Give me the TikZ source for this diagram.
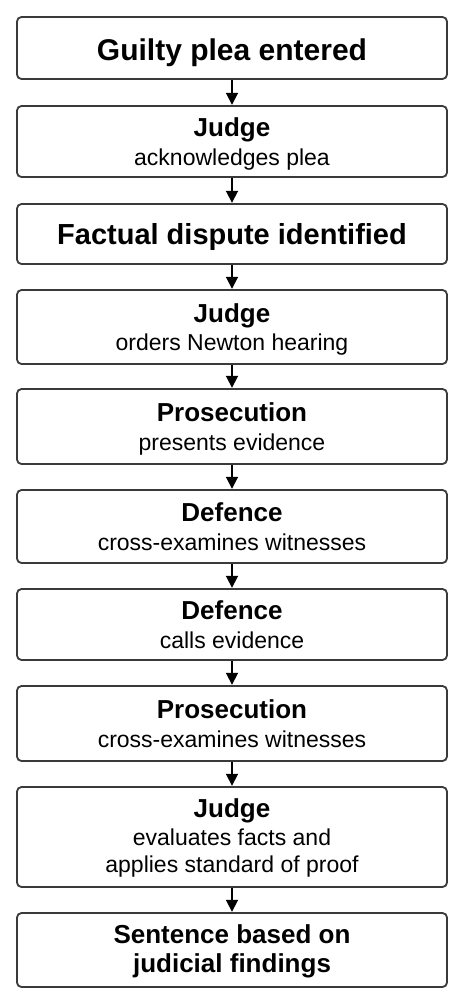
\documentclass[tikz,border=0pt]{standalone}
\usepackage{fontspec}
\setmainfont{Liberation Sans}
\usetikzlibrary{arrows.meta}
\definecolor{boxline}{HTML}{3A3A3A}
\tikzset{
  box/.style={draw=boxline, line width=1.8pt, rounded corners=4.5pt, fill=white,
    minimum width=430pt, inner sep=0pt, align=center, text=black,
    font=\fontsize{23}{28.3}\selectfont},
  arr/.style={line width=1.8pt, draw=black, -{Triangle[length=12pt,width=12pt]}, shorten <=0.5pt, shorten >=0.3pt},
}
\newcommand{\hs}[1]{\rule{0pt}{#1pt}}
\newcommand{\ds}{\rule[-5pt]{0pt}{5pt}}
\newcommand{\hd}[1]{{\bfseries\fontsize{26}{28.3}\selectfont\hs{24}#1}}
\begin{document}
\begin{tikzpicture}[x=1pt,y=-1pt]
\useasboundingbox[fill=white] (0,0) rectangle (464,1005);
\node[box, minimum height=62pt] (b1) at (232,48) {\bfseries\fontsize{30}{32}\selectfont\hs{32}Guilty plea entered\rule[-6.3pt]{0pt}{6.3pt}};
\node[box, minimum height=71pt] (b2) at (232,141.5) {\hd{Judge}\\acknowledges plea\ds};
\node[box, minimum height=60pt] (b3) at (232,234) {\bfseries\fontsize{29}{32}\selectfont\hs{28}Factual dispute identified\rule[-6.1pt]{0pt}{6.1pt}};
\node[box, minimum height=74pt] (b4) at (232,327) {\hd{Judge}\\orders Newton hearing\ds};
\node[box, minimum height=75pt] (b5) at (232,426.5) {\hd{Prosecution}\\presents evidence\ds};
\node[box, minimum height=73pt] (b6) at (232,526.5) {\hd{Defence}\\cross-examines witnesses\ds};
\node[box, minimum height=71pt] (b7) at (232,624.5) {\hd{Defence}\\calls evidence\ds};
\node[box, minimum height=75pt] (b8) at (232,723.5) {\hd{Prosecution}\\cross-examines witnesses\ds};
\node[box, minimum height=100pt, font=\fontsize{23}{27.5}\selectfont] (b9) at (232,837) {{\bfseries\fontsize{26}{28.3}\selectfont\hs{21}Judge}\\evaluates facts and\\applies standard of proof\ds};
\node[box, minimum height=74pt, font=\bfseries\fontsize{26}{29}\selectfont] (b10) at (232,950) {\hs{20.5}Sentence based on\\judicial findings\rule[-5.5pt]{0pt}{5.5pt}};
\foreach \a/\b in {b1/b2,b2/b3,b3/b4,b4/b5,b5/b6,b6/b7,b7/b8,b8/b9,b9/b10}
  \draw[arr] (\a) -- (\b);
\end{tikzpicture}
\end{document}
